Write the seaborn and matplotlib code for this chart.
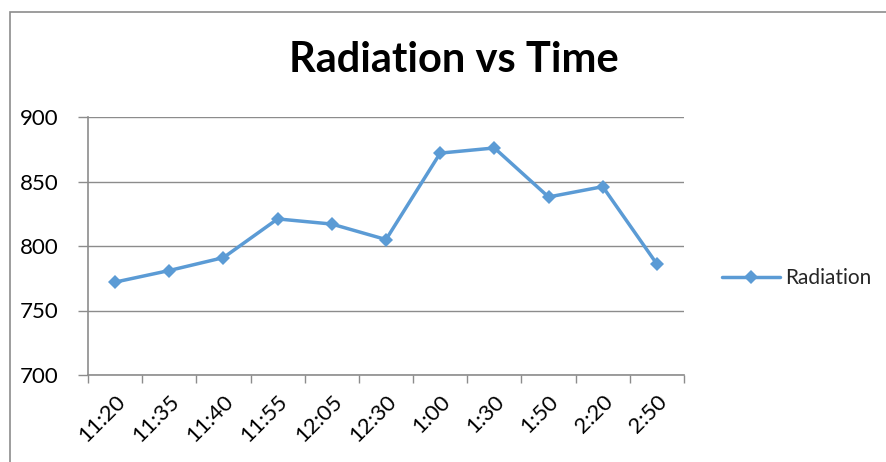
import numpy as np
import pandas as pd
import matplotlib
matplotlib.use("Agg")
import matplotlib.pyplot as plt
from matplotlib.patches import Rectangle
import seaborn as sns

# data
times = ["11:20", "11:35", "11:40", "11:55", "12:05", "12:30",
         "1:00", "1:30", "1:50", "2:20", "2:50"]
radiation = [772, 781, 791, 821, 817, 805, 872, 876, 838, 846, 786]
y_ticks = [700, 750, 800, 850, 900]

df = pd.DataFrame({"Time": times, "Radiation": radiation})

sns.set_theme(style="white")
plt.rcParams["font.family"] = ["Lato", "DejaVu Sans"]

line_color = "#5B9BD5"
grid_color = "#8C8C8C"

fig = plt.figure(figsize=(8.86, 4.62), dpi=100)
ax = fig.add_axes([88 / 886, 1 - 375 / 462, (684 - 88) / 886, (375 - 117) / 462])

sns.lineplot(data=df, x="Time", y="Radiation", ax=ax, color=line_color,
             linewidth=2.5, marker="D", markersize=7, markeredgewidth=0,
             label="Radiation", sort=False)

ax.set_xlim(-0.5, len(times) - 0.5)
ax.set_ylim(700, 900)
ax.set_yticks(y_ticks)
ax.set_yticklabels([str(v) for v in y_ticks], fontsize=16, color="black")
ax.yaxis.grid(True, color=grid_color, linewidth=1)
ax.set_axisbelow(True)

# category axis: ticks between categories, labels at centers
ax.set_xticks(np.arange(len(times)))
ax.set_xticklabels(times, rotation=45, ha="right", rotation_mode="anchor",
                   fontsize=16, color="black")
ax.tick_params(axis="x", length=0, pad=12)
ax.set_xticks(np.arange(len(times) + 1) - 0.5, minor=True)
ax.tick_params(axis="x", which="minor", length=6, width=1, color=grid_color,
               direction="out", bottom=True)
ax.tick_params(axis="y", length=7, width=1, color=grid_color, left=True,
               direction="out", pad=14)

for side in ["top", "right"]:
    ax.spines[side].set_visible(False)
for side in ["left", "bottom"]:
    ax.spines[side].set_color(grid_color)
    ax.spines[side].set_linewidth(1.2)

ax.set_xlabel("")
ax.set_ylabel("")

fig.text(454 / 886, 1 - 60 / 462, "Radiation vs Time", ha="center", va="center",
         fontsize=30, fontweight="bold", color="black")

ax.legend(loc="center left", bbox_to_anchor=(1.05, 1 - (278 - 117) / 258),
          frameon=False, fontsize=15, handlelength=2.8, borderaxespad=0,
          handletextpad=0.2)

# outer chart border (left and top edges visible)
fig.patches.append(Rectangle((10 / 886, -0.1), 1.2, 1 - 12 / 462 + 0.1,
                             transform=fig.transFigure, fill=False,
                             edgecolor=grid_color, linewidth=1.2))

fig.savefig("out.png", dpi=100)
